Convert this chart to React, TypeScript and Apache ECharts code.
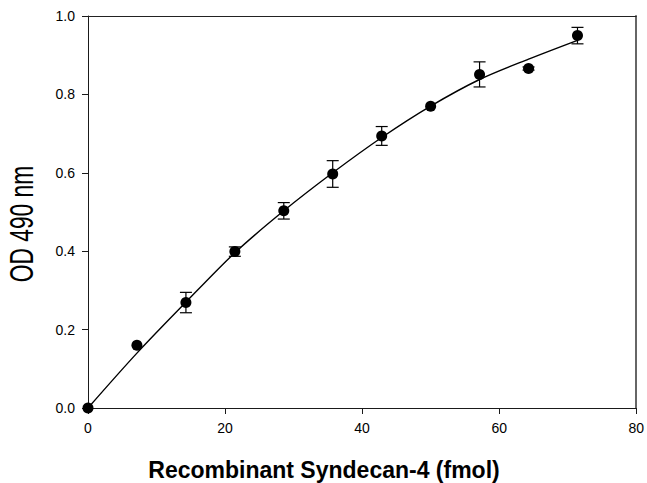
import React, { useEffect, useRef } from "react";
import * as echarts from "echarts";

// Recombinant Syndecan-4 (fmol)
const xFmol = [0, 7.14, 14.29, 21.43, 28.57, 35.71, 42.86, 50, 57.14, 64.29, 71.43];
// OD 490 nm means
const odMean = [0, 0.16, 0.269, 0.399, 0.503, 0.597, 0.694, 0.77, 0.851, 0.866, 0.95];
// error (± half-range)
const odErr = [0, 0, 0.026, 0.012, 0.021, 0.034, 0.024, 0, 0.032, 0.004, 0.021];
// fitted curve
const fitOD = [0, 0.14, 0.27, 0.396, 0.503, 0.6, 0.69, 0.77, 0.838, 0.89, 0.938];

const xTickStep = 20;
const yTickStep = 0.2;

const FONT = "'Liberation Sans', Arial, sans-serif";

export default function App() {
  const ref = useRef<HTMLDivElement>(null);
  useEffect(() => {
    const chart = echarts.init(ref.current!, null, { renderer: "svg" });
    const errData = xFmol
      .map((x, i) => [x, odMean[i] - odErr[i], odMean[i] + odErr[i], odErr[i]])
      .filter((d) => d[3] > 0);
    chart.setOption({
      animation: false,
      backgroundColor: "#fff",
      grid: { left: 88, right: 8, top: 16, bottom: 75 },
      xAxis: [
        {
          type: "value",
          min: 0,
          max: 80,
          interval: xTickStep,
          axisLine: { show: true, onZero: false, lineStyle: { color: "#1a1a1a", width: 1 } },
          axisTick: { show: true, length: 6, lineStyle: { color: "#1a1a1a" } },
          axisLabel: { fontFamily: FONT, fontSize: 14, color: "#000", margin: 13 },
          splitLine: { show: false },
        },
        {
          type: "value",
          position: "top",
          min: 0,
          max: 80,
          axisLine: { show: true, onZero: false, lineStyle: { color: "#222", width: 1 } },
          axisTick: { show: false },
          axisLabel: { show: false },
          splitLine: { show: false },
        },
      ],
      yAxis: [
        {
          type: "value",
          min: 0,
          max: 1,
          interval: yTickStep,
          axisLine: { show: true, onZero: false, lineStyle: { color: "#1a1a1a", width: 1 } },
          axisTick: { show: true, length: 6, lineStyle: { color: "#1a1a1a" } },
          axisLabel: {
            fontFamily: FONT,
            fontSize: 14,
            color: "#000",
            margin: 13,
            formatter: (v: number) => v.toFixed(1),
          },
          splitLine: { show: false },
        },
        {
          type: "value",
          position: "right",
          min: 0,
          max: 1,
          axisLine: { show: true, onZero: false, lineStyle: { color: "#666", width: 2 } },
          axisTick: { show: false },
          axisLabel: { show: false },
          splitLine: { show: false },
        },
      ],
      series: [
        {
          type: "line",
          data: xFmol.map((x, i) => [x, fitOD[i]]),
          showSymbol: false,
          smooth: 0.3,
          lineStyle: { color: "#000", width: 1.4 },
          z: 1,
        },
        {
          type: "custom",
          data: errData,
          encode: { x: 0, y: [1, 2] },
          z: 2,
          renderItem: (_p: any, api: any) => {
            const x = api.value(0);
            const lo = api.coord([x, api.value(1)]);
            const hi = api.coord([x, api.value(2)]);
            const hw = 6;
            const st = { stroke: "#000", lineWidth: 1.2 };
            return {
              type: "group",
              children: [
                { type: "line", shape: { x1: lo[0], y1: lo[1], x2: hi[0], y2: hi[1] }, style: st },
                { type: "line", shape: { x1: lo[0] - hw, y1: lo[1], x2: lo[0] + hw, y2: lo[1] }, style: st },
                { type: "line", shape: { x1: hi[0] - hw, y1: hi[1], x2: hi[0] + hw, y2: hi[1] }, style: st },
              ],
            };
          },
        },
        {
          type: "scatter",
          data: xFmol.map((x, i) => [x, odMean[i]]),
          symbol: "circle",
          symbolSize: 11,
          itemStyle: { color: "#000", opacity: 1 },
          clip: false,
          z: 3,
        },
      ],
      graphic: [
        {
          type: "text",
          x: 324,
          y: 470,
          style: {
            text: "Recombinant Syndecan-4 (fmol)",
            fontFamily: FONT,
            fontSize: 23,
            fontWeight: "bold",
            fill: "#000",
            align: "center",
            verticalAlign: "middle",
            textAlign: "center",
            textVerticalAlign: "middle",
          },
        },
        {
          type: "text",
          x: 22,
          y: 224,
          rotation: Math.PI / 2,
          scaleX: 0.95,
          scaleY: 1.35,
          style: {
            text: "OD 490 nm",
            fontFamily: FONT,
            fontSize: 24,
            fill: "#000",
            align: "center",
            verticalAlign: "middle",
            textAlign: "center",
            textVerticalAlign: "middle",
          },
        },
      ],
    });
    return () => chart.dispose();
  }, []);
  return (
    <div
      ref={ref}
      style={{ position: "fixed", left: 0, top: 0, width: 647, height: 483 }}
    />
  );
}
